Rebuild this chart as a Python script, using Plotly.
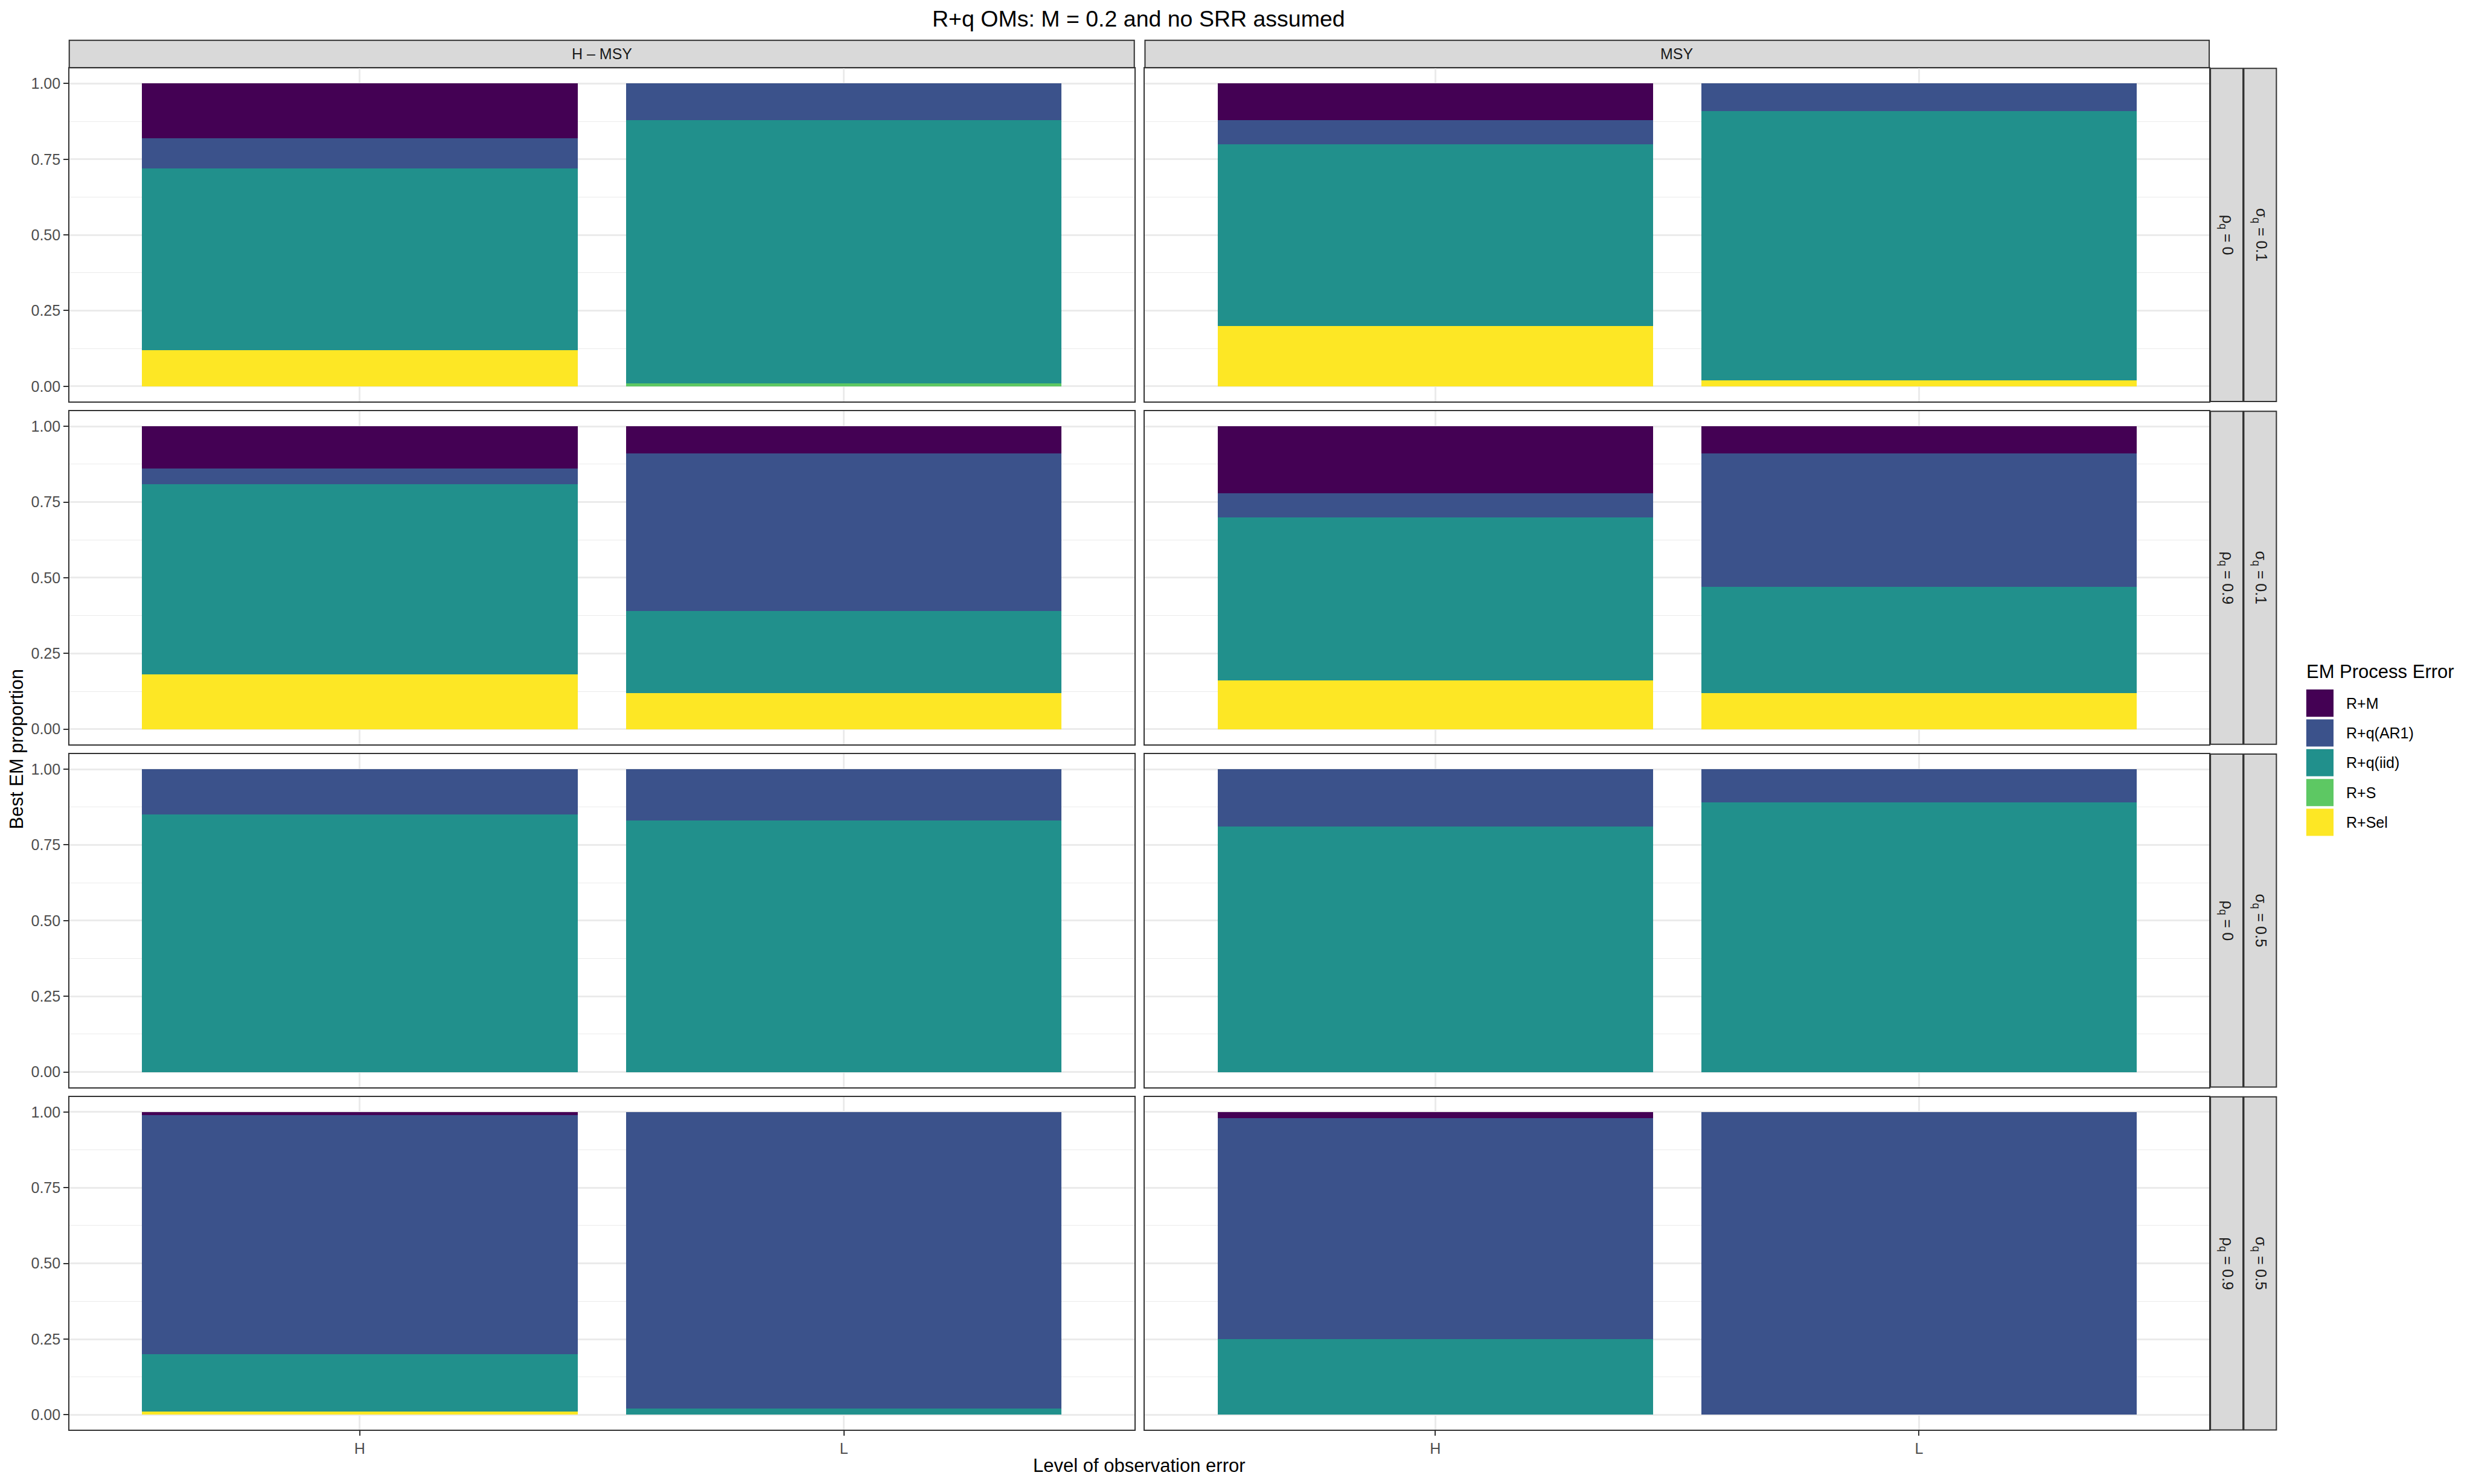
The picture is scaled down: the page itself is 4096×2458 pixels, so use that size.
import plotly.graph_objects as go

# ---------------- data ----------------
categories = ["H", "L"]
col_facets = ["H – MSY", "MSY"]
rho_labels = ["0", "0.9", "0", "0.9"]
sigma_labels = ["0.1", "0.1", "0.5", "0.5"]
em_names = ["R+M", "R+q(AR1)", "R+q(iid)", "R+S", "R+Sel"]
em_colors = ["#440154", "#3B528B", "#21908C", "#5DC863", "#FDE725"]

# values indexed [row][col][category]
r_m = [[[0.18, 0.00], [0.12, 0.00]],
       [[0.14, 0.09], [0.22, 0.09]],
       [[0.00, 0.00], [0.00, 0.00]],
       [[0.01, 0.00], [0.02, 0.00]]]
r_ar1 = [[[0.10, 0.12], [0.08, 0.09]],
         [[0.05, 0.52], [0.08, 0.44]],
         [[0.15, 0.17], [0.19, 0.11]],
         [[0.79, 0.98], [0.73, 1.00]]]
r_iid = [[[0.60, 0.87], [0.60, 0.89]],
         [[0.63, 0.27], [0.54, 0.35]],
         [[0.85, 0.83], [0.81, 0.89]],
         [[0.19, 0.02], [0.25, 0.00]]]
r_s = [[[0.00, 0.01], [0.00, 0.00]],
       [[0.00, 0.00], [0.00, 0.00]],
       [[0.00, 0.00], [0.00, 0.00]],
       [[0.00, 0.00], [0.00, 0.00]]]
r_sel = [[[0.12, 0.00], [0.20, 0.02]],
         [[0.18, 0.12], [0.16, 0.12]],
         [[0.00, 0.00], [0.00, 0.00]],
         [[0.01, 0.00], [0.00, 0.00]]]
em_values = [r_m, r_ar1, r_iid, r_s, r_sel]

y_ticks = [0, 0.25, 0.5, 0.75, 1.0]
title_text = "R+q OMs: M = 0.2 and no SRR assumed"
x_title = "Level of observation error"
y_title = "Best EM proportion"
legend_title = "EM Process Error"

# ---------------- layout geometry (reference px, scaled) ----------------
W, H = 4096, 2458
S = 4096 / 6000.0
FONT = "Liberation Sans, Arial, Helvetica, sans-serif"


def fx(x):
    return x * S / W


def fy(y):
    return 1 - y * S / H


col_x = [(168, 2752), (2778, 5360)]
row_top0, row_h, row_pitch = 166, 808, 831.8
rows_y = [(row_top0 + i * row_pitch, row_top0 + i * row_pitch + row_h) for i in range(4)]

fig = go.Figure()
shapes = []
annotations = []

for r in range(4):
    for c in range(2):
        idx = r * 2 + c + 1
        xa = "x" if idx == 1 else f"x{idx}"
        ya = "y" if idx == 1 else f"y{idx}"
        for k in reversed(range(len(em_names))):
            fig.add_trace(go.Bar(
                x=categories, y=em_values[k][r][c], xaxis=xa, yaxis=ya,
                name=em_names[k], marker=dict(color=em_colors[k], line=dict(width=0)),
                width=0.9, showlegend=False, hoverinfo="name+y"))
        x0, x1 = col_x[c]
        y0, y1 = rows_y[r]
        xkey = "xaxis" if idx == 1 else f"xaxis{idx}"
        ykey = "yaxis" if idx == 1 else f"yaxis{idx}"
        fig.layout[xkey] = dict(
            domain=[fx(x0), fx(x1)], anchor=ya, type="category",
            categoryorder="array", categoryarray=categories,
            range=[-0.6, 1.6], showgrid=True, gridcolor="#EBEBEB", gridwidth=2.5,
            showline=True, mirror=True, linecolor="#333333", linewidth=2,
            ticks="outside" if r == 3 else "", ticklen=7.5, tickwidth=1.8, tickcolor="#333333",
            showticklabels=(r == 3), tickfont=dict(family=FONT, size=25, color="#4D4D4D"),
            zeroline=False, fixedrange=True)
        fig.layout[ykey] = dict(
            domain=[fy(y1), fy(y0)], anchor=xa, range=[-0.05, 1.05],
            tickvals=y_ticks, ticktext=[f"{v:.2f}" for v in y_ticks],
            showgrid=True, gridcolor="#EBEBEB", gridwidth=2.5,
            minor=dict(showgrid=True, gridcolor="#EBEBEB", gridwidth=1.3,
                       tickvals=[0.125, 0.375, 0.625, 0.875]),
            showline=True, mirror=True, linecolor="#333333", linewidth=2,
            ticks="outside" if c == 0 else "", ticklen=7.5, tickwidth=1.8, tickcolor="#333333",
            showticklabels=(c == 0), tickfont=dict(family=FONT, size=25, color="#4D4D4D"),
            zeroline=False, fixedrange=True)

# top strips
for c in range(2):
    x0, x1 = col_x[c]
    shapes.append(dict(type="rect", xref="paper", yref="paper",
                       x0=fx(x0), x1=fx(x1), y0=fy(164.5), y1=fy(97.6),
                       fillcolor="#D9D9D9", line=dict(color="#333333", width=2), layer="below"))
    annotations.append(dict(text=col_facets[c], xref="paper", yref="paper",
                            x=fx((x0 + x1) / 2), y=fy(131), xanchor="center", yanchor="middle",
                            showarrow=False, font=dict(family=FONT, size=25, color="#1A1A1A")))

# right strips
strip_cols = [(5363, 5442), (5444, 5523)]
for r in range(4):
    y0, y1 = rows_y[r]
    for j, (sx0, sx1) in enumerate(strip_cols):
        shapes.append(dict(type="rect", xref="paper", yref="paper",
                           x0=fx(sx0), x1=fx(sx1), y0=fy(y1), y1=fy(y0),
                           fillcolor="#D9D9D9", line=dict(color="#333333", width=2), layer="below"))
        if j == 0:
            txt = f"ρ<sub>q</sub> = {rho_labels[r]}"
        else:
            txt = f"σ<sub>q</sub> = {sigma_labels[r]}"
        annotations.append(dict(text=txt, xref="paper", yref="paper",
                                x=fx((sx0 + sx1) / 2), y=fy((y0 + y1) / 2),
                                xanchor="center", yanchor="middle", textangle=90,
                                showarrow=False, font=dict(family=FONT, size=25, color="#1A1A1A")))

# title and axis titles
annotations.append(dict(text=title_text, xref="paper", yref="paper", x=fx(2763), y=fy(45),
                        xanchor="center", yanchor="middle", showarrow=False,
                        font=dict(family=FONT, size=37.5, color="black")))
annotations.append(dict(text=x_title, xref="paper", yref="paper", x=fx(2764), y=fy(3556),
                        xanchor="center", yanchor="middle", showarrow=False,
                        font=dict(family=FONT, size=31, color="black")))
annotations.append(dict(text=y_title, xref="paper", yref="paper", x=fx(40), y=fy(1818),
                        xanchor="center", yanchor="middle", textangle=-90, showarrow=False,
                        font=dict(family=FONT, size=31, color="black")))

# legend (drawn manually)
annotations.append(dict(text=legend_title, xref="paper", yref="paper", x=fx(5593), y=fy(1630),
                        xanchor="left", yanchor="middle", showarrow=False,
                        font=dict(family=FONT, size=31, color="black")))
for i, (nm, col) in enumerate(zip(em_names, em_colors)):
    ky0 = 1673 + 72.3 * i
    ky1 = ky0 + 66
    shapes.append(dict(type="rect", xref="paper", yref="paper",
                       x0=fx(5595.5), x1=fx(5661.6), y0=fy(ky1), y1=fy(ky0),
                       fillcolor=col, line=dict(width=0)))
    annotations.append(dict(text=nm, xref="paper", yref="paper", x=fx(5689), y=fy((ky0 + ky1) / 2),
                            xanchor="left", yanchor="middle", showarrow=False,
                            font=dict(family=FONT, size=25, color="black")))

fig.update_layout(
    width=W, height=H, barmode="stack", bargap=0.1,
    margin=dict(l=0, r=0, t=0, b=0),
    paper_bgcolor="white", plot_bgcolor="white",
    showlegend=False, shapes=shapes, annotations=annotations,
    font=dict(family=FONT),
)

fig.write_html("out.html", config={"displayModeBar": False})
